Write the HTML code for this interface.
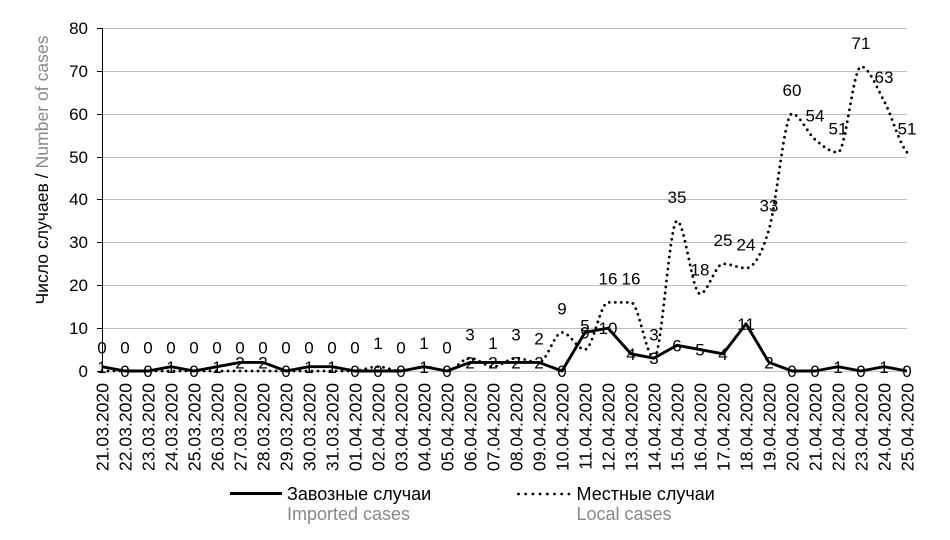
<!DOCTYPE html>
<html>
<head>
<meta charset="utf-8">
<style>
html,body{margin:0;padding:0;background:#fff;}
svg{display:block;}
text{font-family:"Liberation Sans","DejaVu Sans",sans-serif;}
</style>
</head>
<body>
<svg width="950" height="540" viewBox="0 0 950 540" xmlns="http://www.w3.org/2000/svg">
<rect width="950" height="540" fill="#fff"/>
<!-- gridlines -->
<g stroke="#bfbfbf" stroke-width="1">
<line x1="102" y1="28.5" x2="907" y2="28.5"/>
<line x1="102" y1="71.5" x2="907" y2="71.5"/>
<line x1="102" y1="114.5" x2="907" y2="114.5"/>
<line x1="102" y1="157.5" x2="907" y2="157.5"/>
<line x1="102" y1="199.5" x2="907" y2="199.5"/>
<line x1="102" y1="242.5" x2="907" y2="242.5"/>
<line x1="102" y1="285.5" x2="907" y2="285.5"/>
<line x1="102" y1="328.5" x2="907" y2="328.5"/>
<line x1="102" y1="371.5" x2="907" y2="371.5"/>
</g>
<!-- y axis -->
<g stroke="#000" stroke-width="1">
<line x1="102.5" y1="28" x2="102.5" y2="372"/>
<line x1="97" y1="28.5" x2="102" y2="28.5"/>
<line x1="97" y1="71.5" x2="102" y2="71.5"/>
<line x1="97" y1="114.5" x2="102" y2="114.5"/>
<line x1="97" y1="157.5" x2="102" y2="157.5"/>
<line x1="97" y1="199.5" x2="102" y2="199.5"/>
<line x1="97" y1="242.5" x2="102" y2="242.5"/>
<line x1="97" y1="285.5" x2="102" y2="285.5"/>
<line x1="97" y1="328.5" x2="102" y2="328.5"/>
<line x1="97" y1="371.5" x2="102" y2="371.5"/>
</g>
<g font-size="17" text-anchor="end" fill="#000">
<text x="88" y="34">80</text>
<text x="88" y="77">70</text>
<text x="88" y="120">60</text>
<text x="88" y="163">50</text>
<text x="88" y="205">40</text>
<text x="88" y="248">30</text>
<text x="88" y="291">20</text>
<text x="88" y="334">10</text>
<text x="88" y="377">0</text>
</g>
<!-- y title -->
<text transform="translate(42,170) rotate(-90)" text-anchor="middle" dy="0.35em" font-size="17.6"><tspan fill="#000">Число случаев /</tspan><tspan fill="#888"> Number of cases</tspan></text>

<!-- x labels -->
<g font-size="17.6" text-anchor="end" fill="#000">
<text transform="translate(102,383) rotate(-90)" dy="0.36em">21.03.2020</text>
<text transform="translate(125,383) rotate(-90)" dy="0.36em">22.03.2020</text>
<text transform="translate(148,383) rotate(-90)" dy="0.36em">23.03.2020</text>
<text transform="translate(171,383) rotate(-90)" dy="0.36em">24.03.2020</text>
<text transform="translate(194,383) rotate(-90)" dy="0.36em">25.03.2020</text>
<text transform="translate(217,383) rotate(-90)" dy="0.36em">26.03.2020</text>
<text transform="translate(240,383) rotate(-90)" dy="0.36em">27.03.2020</text>
<text transform="translate(263,383) rotate(-90)" dy="0.36em">28.03.2020</text>
<text transform="translate(286,383) rotate(-90)" dy="0.36em">29.03.2020</text>
<text transform="translate(309,383) rotate(-90)" dy="0.36em">30.03.2020</text>
<text transform="translate(332,383) rotate(-90)" dy="0.36em">31.03.2020</text>
<text transform="translate(355,383) rotate(-90)" dy="0.36em">01.04.2020</text>
<text transform="translate(378,383) rotate(-90)" dy="0.36em">02.04.2020</text>
<text transform="translate(401,383) rotate(-90)" dy="0.36em">03.04.2020</text>
<text transform="translate(424,383) rotate(-90)" dy="0.36em">04.04.2020</text>
<text transform="translate(447,383) rotate(-90)" dy="0.36em">05.04.2020</text>
<text transform="translate(470,383) rotate(-90)" dy="0.36em">06.04.2020</text>
<text transform="translate(493,383) rotate(-90)" dy="0.36em">07.04.2020</text>
<text transform="translate(516,383) rotate(-90)" dy="0.36em">08.04.2020</text>
<text transform="translate(539,383) rotate(-90)" dy="0.36em">09.04.2020</text>
<text transform="translate(562,383) rotate(-90)" dy="0.36em">10.04.2020</text>
<text transform="translate(585,383) rotate(-90)" dy="0.36em">11.04.2020</text>
<text transform="translate(608,383) rotate(-90)" dy="0.36em">12.04.2020</text>
<text transform="translate(631,383) rotate(-90)" dy="0.36em">13.04.2020</text>
<text transform="translate(654,383) rotate(-90)" dy="0.36em">14.04.2020</text>
<text transform="translate(677,383) rotate(-90)" dy="0.36em">15.04.2020</text>
<text transform="translate(700,383) rotate(-90)" dy="0.36em">16.04.2020</text>
<text transform="translate(723,383) rotate(-90)" dy="0.36em">17.04.2020</text>
<text transform="translate(746,383) rotate(-90)" dy="0.36em">18.04.2020</text>
<text transform="translate(769,383) rotate(-90)" dy="0.36em">19.04.2020</text>
<text transform="translate(792,383) rotate(-90)" dy="0.36em">20.04.2020</text>
<text transform="translate(815,383) rotate(-90)" dy="0.36em">21.04.2020</text>
<text transform="translate(838,383) rotate(-90)" dy="0.36em">22.04.2020</text>
<text transform="translate(861,383) rotate(-90)" dy="0.36em">23.04.2020</text>
<text transform="translate(884,383) rotate(-90)" dy="0.36em">24.04.2020</text>
<text transform="translate(907,383) rotate(-90)" dy="0.36em">25.04.2020</text>
</g>

<!-- local (dotted, smoothed) -->
<path fill="none" stroke="#000" stroke-width="2.8" stroke-linecap="round" stroke-dasharray="0 6"
d="M102,371 L355,371
C362.67,370.29 370.33,366.71 378,366.71
C385.67,366.71 393.33,371 401,371
C408.67,371 416.33,366.71 424,366.71
C431.67,366.71 439.33,371 447,371
C454.67,371 462.33,358.14 470,358.14
C477.67,358.14 485.33,366.71 493,366.71
C500.67,366.71 508.33,358.14 516,358.14
C523.67,358.14 531.33,362.43 539,362.43
C546.67,362.43 554.33,332.41 562,332.41
C569.67,332.41 577.33,349.56 585,349.56
C592.67,349.56 600.33,302.4 608,302.4
C615.67,302.4 623.33,302.4 631,302.4
C638.67,302.4 646.33,358.14 654,358.14
C661.67,358.14 669.33,220.94 677,220.94
C684.67,220.94 692.33,293.83 700,293.83
C707.67,293.83 715.33,263.81 723,263.81
C730.67,263.81 738.33,268.1 746,268.1
C753.67,268.1 761.33,255.24 769,229.51
C776.67,203.79 784.33,113.75 792,113.75
C799.67,113.75 807.33,133.05 815,139.48
C822.67,145.91 830.33,152.34 838,152.34
C845.67,152.34 853.33,66.59 861,66.59
C868.67,66.59 876.33,86.6 884,100.89
C891.67,115.18 899.33,143.77 907,152.34"/>

<!-- imported (solid) -->
<polyline fill="none" stroke="#000" stroke-width="2.9" stroke-linejoin="round"
points="102,366.71 125,371 148,371 171,366.71 194,371 217,366.71 240,362.43 263,362.43 286,371 309,366.71 332,366.71 355,371 378,371 401,371 424,366.71 447,371 470,362.43 493,362.43 516,362.43 539,362.43 562,371 585,332.41 608,328.13 631,353.85 654,358.14 677,345.28 700,349.56 723,353.85 746,323.84 769,362.43 792,371 815,371 838,366.71 861,371 884,366.71 907,371"/>

<!-- local labels (above) -->
<g font-size="17" text-anchor="middle" fill="#000">
<text x="102" y="353.5">0</text>
<text x="125" y="353.5">0</text>
<text x="148" y="353.5">0</text>
<text x="171" y="353.5">0</text>
<text x="194" y="353.5">0</text>
<text x="217" y="353.5">0</text>
<text x="240" y="353.5">0</text>
<text x="263" y="353.5">0</text>
<text x="286" y="353.5">0</text>
<text x="309" y="353.5">0</text>
<text x="332" y="353.5">0</text>
<text x="355" y="353.5">0</text>
<text x="378" y="349">1</text>
<text x="401" y="353.5">0</text>
<text x="424" y="349">1</text>
<text x="447" y="353.5">0</text>
<text x="470" y="340.5">3</text>
<text x="493" y="349">1</text>
<text x="516" y="340.5">3</text>
<text x="539" y="344.5">2</text>
<text x="562" y="314.5">9</text>
<text x="585" y="331.5">5</text>
<text x="608" y="284.5">16</text>
<text x="631" y="284.5">16</text>
<text x="654" y="340.5">3</text>
<text x="677" y="203">35</text>
<text x="700" y="275.5">18</text>
<text x="723" y="246">25</text>
<text x="746" y="250.5">24</text>
<text x="769" y="211.5">33</text>
<text x="792" y="96">60</text>
<text x="815" y="121.5">54</text>
<text x="838" y="134.5">51</text>
<text x="861" y="49">71</text>
<text x="884" y="83">63</text>
<text x="907" y="134.5">51</text>
</g>

<!-- imported labels (centered) -->
<g font-size="17" text-anchor="middle" fill="#000">
<text x="102" y="372.8">1</text>
<text x="125" y="377.1">0</text>
<text x="148" y="377.1">0</text>
<text x="171" y="372.8">1</text>
<text x="194" y="377.1">0</text>
<text x="217" y="372.8">1</text>
<text x="240" y="368.5">2</text>
<text x="263" y="368.5">2</text>
<text x="286" y="377.1">0</text>
<text x="309" y="372.8">1</text>
<text x="332" y="372.8">1</text>
<text x="355" y="377.1">0</text>
<text x="378" y="377.1">0</text>
<text x="401" y="377.1">0</text>
<text x="424" y="372.8">1</text>
<text x="447" y="377.1">0</text>
<text x="470" y="368.5">2</text>
<text x="493" y="368.5">2</text>
<text x="516" y="368.5">2</text>
<text x="539" y="368.5">2</text>
<text x="562" y="377.1">0</text>
<text x="585" y="338.5">9</text>
<text x="608" y="334.2">10</text>
<text x="631" y="359.9">4</text>
<text x="654" y="364.2">3</text>
<text x="677" y="351.3">6</text>
<text x="700" y="355.6">5</text>
<text x="723" y="359.9">4</text>
<text x="746" y="329.9">11</text>
<text x="769" y="368.5">2</text>
<text x="792" y="377.1">0</text>
<text x="815" y="377.1">0</text>
<text x="838" y="372.8">1</text>
<text x="861" y="377.1">0</text>
<text x="884" y="372.8">1</text>
<text x="907" y="377.1">0</text>
</g>

<!-- legend -->
<line x1="230" y1="493.5" x2="282" y2="493.5" stroke="#000" stroke-width="3"/>
<text x="287" y="500" font-size="18" fill="#000">Завозные случаи</text>
<text x="287" y="520" font-size="18" fill="#888">Imported cases</text>
<line x1="518.5" y1="494" x2="569" y2="494" stroke="#000" stroke-width="2.8" stroke-linecap="round" stroke-dasharray="0 7.2"/>
<text x="576.5" y="500" font-size="18" fill="#000">Местные случаи</text>
<text x="576.5" y="520" font-size="18" fill="#888">Local cases</text>
</svg>
</body>
</html>
